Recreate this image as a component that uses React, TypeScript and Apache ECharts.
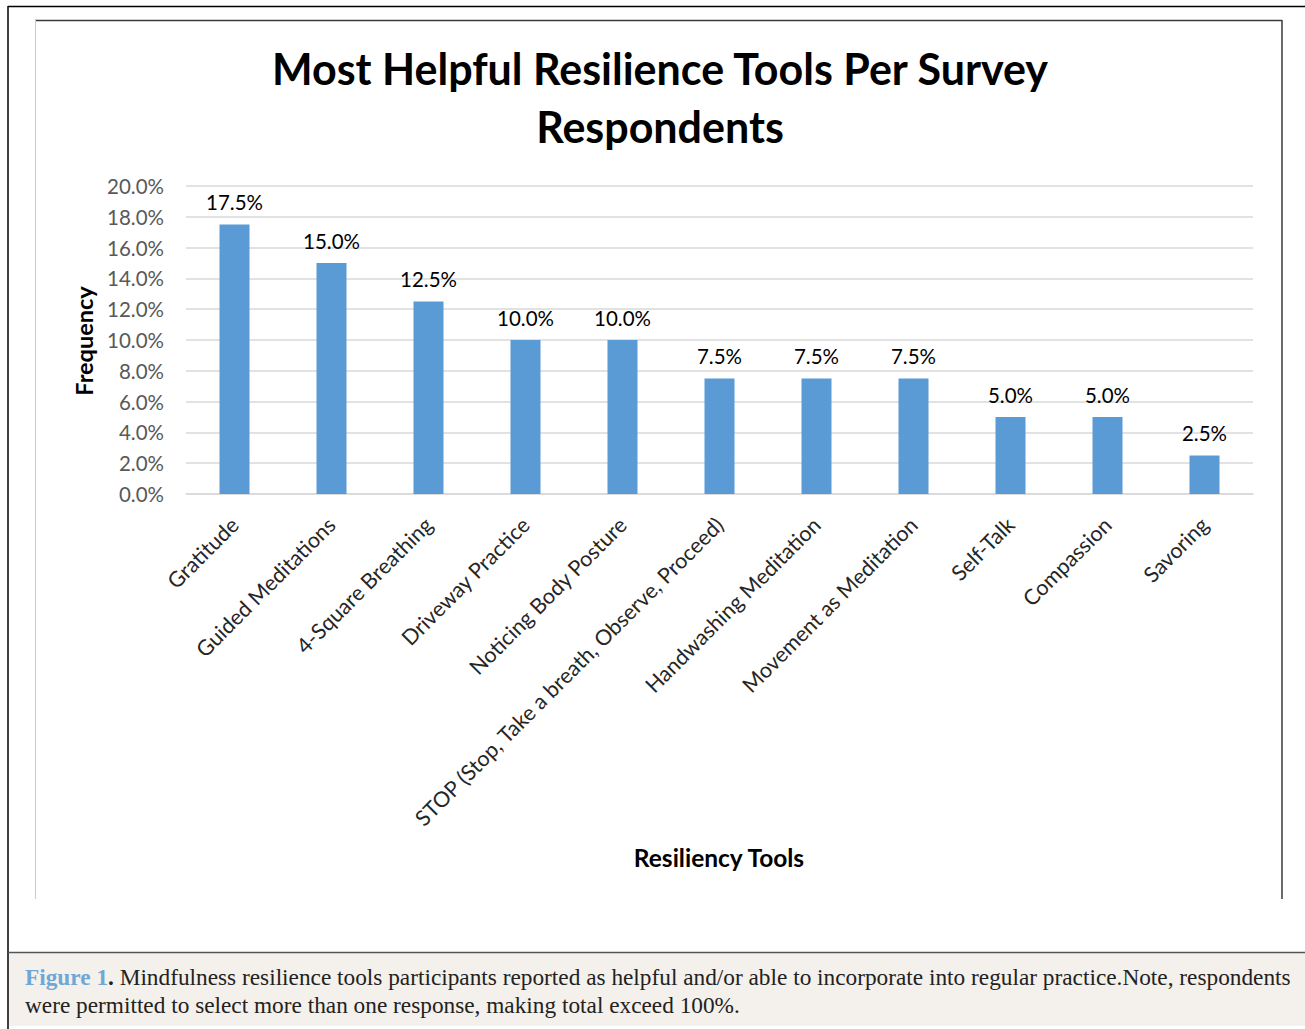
import React, { useEffect, useRef } from "react";
import * as echarts from "echarts";

const categories = [
  "Gratitude",
  "Guided Meditations",
  "4-Square Breathing",
  "Driveway Practice",
  "Noticing Body Posture",
  "STOP (Stop, Take a breath, Observe, Proceed)",
  "Handwashing Meditation",
  "Movement as Meditation",
  "Self-Talk",
  "Compassion",
  "Savoring",
];
const frequency = [17.5, 15.0, 12.5, 10.0, 10.0, 7.5, 7.5, 7.5, 5.0, 5.0, 2.5];
const yTicksMax = 20;
const yTicksStep = 2;

const titleLines = ["Most Helpful Resilience Tools Per Survey", "Respondents"];
const yAxisTitle = "Frequency";
const xAxisTitle = "Resiliency Tools";
const captionLabel = "Figure 1";
const captionLine1 =
  " Mindfulness resilience tools participants reported as helpful and/or able to incorporate into regular practice.Note, respondents";
const captionLine2 = "were permitted to select more than one response, making total exceed 100%.";

const W = 1305;
const H = 1029;

export default function App() {
  const ref = useRef<HTMLDivElement>(null);
  useEffect(() => {
    document.body.style.margin = "0";
    const chart = echarts.init(ref.current!, null, { renderer: "svg" });
    const sans = "Lato, 'Open Sans', sans-serif";
    const serif = "'Liberation Serif', 'DejaVu Serif', serif";
    chart.setOption({
      animation: false,
      backgroundColor: "#ffffff",
      title: {
        text: titleLines.join("\n"),
        left: 655,
        textAlign: "center",
        top: 34,
        textStyle: {
          fontFamily: sans,
          fontWeight: "bold",
          fontSize: 43,
          lineHeight: 58,
          color: "#000000",
        },
      },
      grid: { left: 186, right: W - 1253, top: 186, bottom: H - 494, containLabel: false },
      xAxis: {
        type: "category",
        data: categories,
        axisLine: { show: true, lineStyle: { color: "#d9d9d9", width: 1.5 } },
        axisTick: { show: false },
        axisLabel: {
          rotate: 45,
          interval: 0,
          margin: 27,
          fontFamily: sans,
          fontSize: 21.5,
          color: "#262626",
        },
      },
      yAxis: {
        type: "value",
        min: 0,
        max: yTicksMax,
        interval: yTicksStep,
        axisLine: { show: false },
        axisTick: { show: false },
        splitLine: { lineStyle: { color: "#d9d9d9", width: 1.5 } },
        axisLabel: {
          margin: 22,
          fontFamily: sans,
          fontSize: 20.5,
          color: "#595959",
          formatter: (v: number) => v.toFixed(1) + "%",
        },
      },
      series: [
        {
          type: "bar",
          data: frequency,
          barWidth: 30,
          itemStyle: { color: "#5b9bd5" },
          label: {
            show: true,
            position: "top",
            distance: 12,
            fontFamily: sans,
            fontSize: 20.5,
            color: "#000000",
            formatter: (p: any) => Number(p.value).toFixed(1) + "%",
          },
        },
      ],
      graphic: [
        // outer page border
        { type: "line", shape: { x1: 8, y1: 6.5, x2: W, y2: 6.5 }, style: { stroke: "#000", lineWidth: 1.5 } },
        { type: "line", shape: { x1: 8, y1: 6, x2: 8, y2: H }, style: { stroke: "#000", lineWidth: 1.5 } },
        // caption background
        {
          type: "rect",
          shape: { x: 9, y: 953, width: W - 9, height: 73 },
          style: { fill: "#f4f0eb" },
        },
        { type: "line", shape: { x1: 8, y1: 952.5, x2: W, y2: 952.5 }, style: { stroke: "#555", lineWidth: 1.5 } },
        // chart frame
        { type: "line", shape: { x1: 35, y1: 20.5, x2: 1282, y2: 20.5 }, style: { stroke: "#3a3a3a", lineWidth: 1.5 } },
        { type: "line", shape: { x1: 35.5, y1: 20, x2: 35.5, y2: 899 }, style: { stroke: "#cccccc", lineWidth: 1 } },
        { type: "line", shape: { x1: 1282, y1: 20, x2: 1282, y2: 899 }, style: { stroke: "#3a3a3a", lineWidth: 1.5 } },
        // axis titles
        {
          type: "text",
          x: 84,
          y: 341,
          rotation: Math.PI / 2,
          style: {
            text: yAxisTitle,
            fontFamily: sans,
            fontWeight: "bold",
            fontSize: 23.5,
            fill: "#000",
            align: "center",
            verticalAlign: "middle",
          },
        },
        {
          type: "text",
          x: 719,
          y: 857,
          style: {
            text: xAxisTitle,
            fontFamily: sans,
            fontWeight: "bold",
            fontSize: 24.5,
            fill: "#000",
            align: "center",
            verticalAlign: "middle",
          },
        },
        // caption
        {
          type: "text",
          x: 25,
          y: 977,
          style: {
            text: "{b|" + captionLabel + "}{d|.}{c|" + captionLine1 + "}",
            fontFamily: serif,
            fontSize: 23.3,
            verticalAlign: "middle",
            rich: {
              b: { fontFamily: serif, fontSize: 23.3, fill: "#6fa7d6", fontWeight: "bold" },
              d: { fontFamily: serif, fontSize: 23.3, fill: "#222222", fontWeight: "bold" },
              c: { fontFamily: serif, fontSize: 23.3, fill: "#222222" },
            },
          },
        },
        {
          type: "text",
          x: 25,
          y: 1005,
          style: {
            text: captionLine2,
            fontFamily: serif,
            fontSize: 23.3,
            fill: "#222222",
            verticalAlign: "middle",
          },
        },
      ],
    });
    return () => chart.dispose();
  }, []);
  return <div ref={ref} style={{ width: W, height: H }} />;
}
